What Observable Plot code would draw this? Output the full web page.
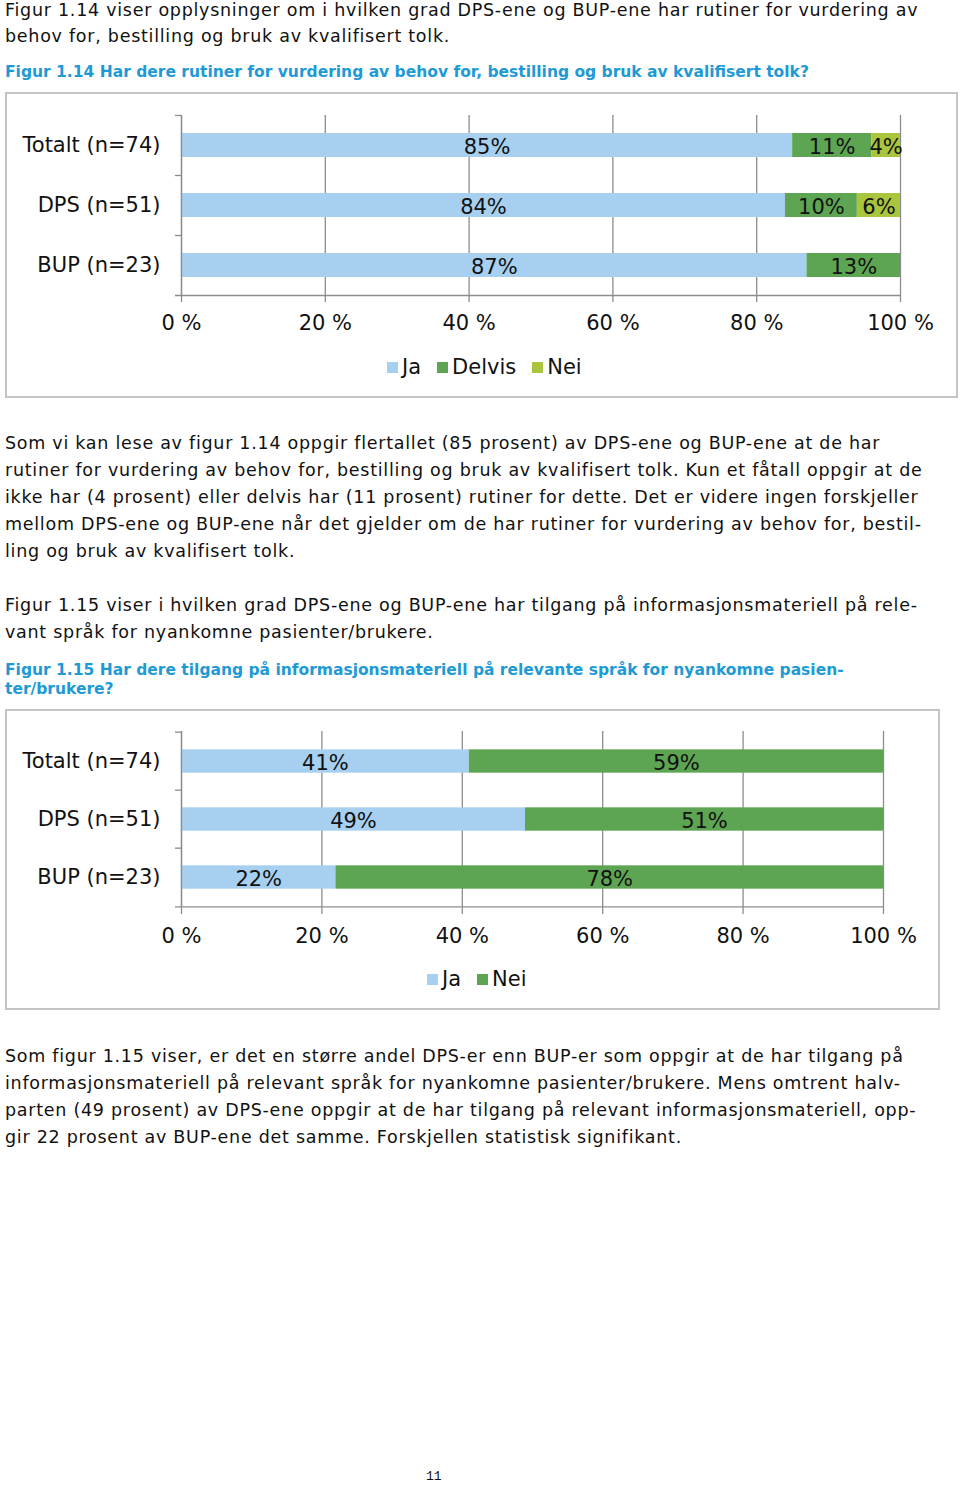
<!DOCTYPE html>
<html><head><meta charset="utf-8">
<script src="https://cdn.jsdelivr.net/npm/d3@7"></script>
<script src="https://cdn.jsdelivr.net/npm/@observablehq/plot@0.6"></script>
<style>
body{margin:0;background:#fff;}
#page{position:relative;width:960px;height:1485px;overflow:hidden;font-family:"DejaVu Sans",Verdana,sans-serif;color:#111;}
.txt{position:absolute;left:5px;font-size:17.5px;letter-spacing:0.73px;line-height:27px;white-space:nowrap;}
.cap{position:absolute;left:5px;font-size:15.5px;line-height:19px;font-weight:bold;color:#1e9ad6;white-space:nowrap;}
.box{position:absolute;border:2px solid #c4c4c4;box-sizing:border-box;}
.chart{position:absolute;}
.legend{position:absolute;display:flex;align-items:center;font-size:21px;height:30px;line-height:30px;white-space:nowrap;}
.legend .sw{width:11px;height:11px;margin-right:4px;display:inline-block;}
.legend .it{display:flex;align-items:center;margin-right:16px;}
.pagenum{position:absolute;left:426px;top:1470px;font-family:"Liberation Mono",monospace;font-size:13px;line-height:14px;}
</style></head>
<body><div id="page">
<div class="txt" style="top:0px;line-height:20px">Figur 1.14 viser opplysninger om i hvilken grad DPS-ene og BUP-ene har rutiner for vurdering av</div>
<div class="txt" style="top:22.5px">behov for, bestilling og bruk av kvalifisert tolk.</div>
<div class="cap" style="top:63px">Figur 1.14 Har dere rutiner for vurdering av behov for, bestilling og bruk av kvalifisert tolk?</div>
<div class="box" style="left:5px;top:92px;width:953px;height:306px"></div>
<div class="chart" id="c1" style="left:5px;top:92px"></div>
<div class="legend" id="l1" style="left:387px;top:352px"></div>
<div class="txt" style="top:430px">Som vi kan lese av figur 1.14 oppgir flertallet (85 prosent) av DPS-ene og BUP-ene at de har<br>rutiner for vurdering av behov for, bestilling og bruk av kvalifisert tolk. Kun et fåtall oppgir at de<br>ikke har (4 prosent) eller delvis har (11 prosent) rutiner for dette. Det er videre ingen forskjeller<br>mellom DPS-ene og BUP-ene når det gjelder om de har rutiner for vurdering av behov for, bestil-<br>ling og bruk av kvalifisert tolk.</div>
<div class="txt" style="top:592px">Figur 1.15 viser i hvilken grad DPS-ene og BUP-ene har tilgang på informasjonsmateriell på rele-<br>vant språk for nyankomne pasienter/brukere.</div>
<div class="cap" style="top:661px">Figur 1.15 Har dere tilgang på informasjonsmateriell på relevante språk for nyankomne pasien-<br>ter/brukere?</div>
<div class="box" style="left:5px;top:709px;width:935px;height:301px"></div>
<div class="chart" id="c2" style="left:5px;top:709px"></div>
<div class="legend" id="l2" style="left:427px;top:964px"></div>
<div class="txt" style="top:1043px">Som figur 1.15 viser, er det en større andel DPS-er enn BUP-er som oppgir at de har tilgang på<br>informasjonsmateriell på relevant språk for nyankomne pasienter/brukere. Mens omtrent halv-<br>parten (49 prosent) av DPS-ene oppgir at de har tilgang på relevant informasjonsmateriell, opp-<br>gir 22 prosent av BUP-ene det samme. Forskjellen statistisk signifikant.</div>
<div class="pagenum">11</div>
</div>
<script>
// ---- data ----
const groups = ["Totalt (n=74)", "DPS (n=51)", "BUP (n=23)"];
const xTicks = [0, 20, 40, 60, 80, 100];
const answers1 = ["Ja", "Delvis", "Nei"];
const ja1 = [85, 84, 87];
const delvis1 = [11, 10, 13];
const nei1 = [4, 6, 0];
const answers2 = ["Ja", "Nei"];
const ja2 = [41, 49, 22];
const nei2 = [59, 51, 78];
const colors1 = ["#a6cff0", "#5ea553", "#a9c43d"];
const colors2 = ["#a6cff0", "#5ea553"];

const axisGray = "#8c8c8c";

function makeChart({answers, series, colors, width, height, marginTop, marginBottom, marginRight, tickPadding}) {
  const marginLeft = 176;
  const rows = [];
  groups.forEach((g, i) => answers.forEach((a, j) => rows.push({group: g, answer: a, value: series[j][i]})));
  const step = (height - marginTop - marginBottom) / groups.length;
  const inset = (step - 24) / 2;
  const tickLen = 6 / ((width - marginLeft - marginRight) / 100);
  const last = groups[groups.length - 1];
  return Plot.plot({
    width, height, marginLeft, marginRight, marginTop, marginBottom,
    style: {fontFamily: "DejaVu Sans, Verdana, sans-serif", fontSize: "21px", color: "#111", background: "transparent", overflow: "visible"},
    x: {domain: [0, 100], label: null},
    y: {domain: groups, padding: 0, label: null},
    color: {domain: answers, range: colors},
    marks: [
      Plot.gridX(xTicks, {stroke: axisGray, strokeOpacity: 1, strokeWidth: 1.3, insetBottom: -7}),
      Plot.barX(rows, Plot.stackX({x: "value", y: "group", fill: "answer", order: answers, insetTop: inset, insetBottom: inset})),
      Plot.text(rows.filter(d => d.value > 0), Plot.stackX({x: "value", y: "group", z: "answer", order: answers, text: d => d.value + "%", fill: "#111", fontSize: 21, dy: 1.5})),
      Plot.ruleX([0], {stroke: axisGray, strokeWidth: 1.3}),
      Plot.ruleY(groups, {dy: -step / 2, x1: -tickLen, x2: 0, stroke: axisGray, strokeWidth: 1.3}),
      Plot.ruleY([last], {dy: step / 2, x1: -tickLen, x2: 100, stroke: axisGray, strokeWidth: 1.3}),
      Plot.axisX(xTicks, {tickSize: 0, tickPadding, tickFormat: d => d + " %", fontSize: 21, label: null}),
      Plot.axisY({tickSize: 0, tickPadding: 21, fontSize: 21, label: null})
    ]
  });
}

function makeLegend(el, answers, colors) {
  answers.forEach((a, i) => {
    const it = document.createElement("span");
    it.className = "it";
    const sw = document.createElement("span");
    sw.className = "sw";
    sw.style.background = colors[i];
    it.appendChild(sw);
    it.appendChild(document.createTextNode(a));
    el.appendChild(it);
  });
}

document.getElementById("c1").appendChild(makeChart({
  answers: answers1, series: [ja1, delvis1, nei1], colors: colors1,
  width: 953, height: 250, marginTop: 23, marginBottom: 47, marginRight: 58, tickPadding: 20
}));
document.getElementById("c2").appendChild(makeChart({
  answers: answers2, series: [ja2, nei2], colors: colors2,
  width: 935, height: 250, marginTop: 22, marginBottom: 52, marginRight: 57, tickPadding: 21
}));
makeLegend(document.getElementById("l1"), answers1, colors1);
makeLegend(document.getElementById("l2"), answers2, colors2);
</script>
</body></html>
